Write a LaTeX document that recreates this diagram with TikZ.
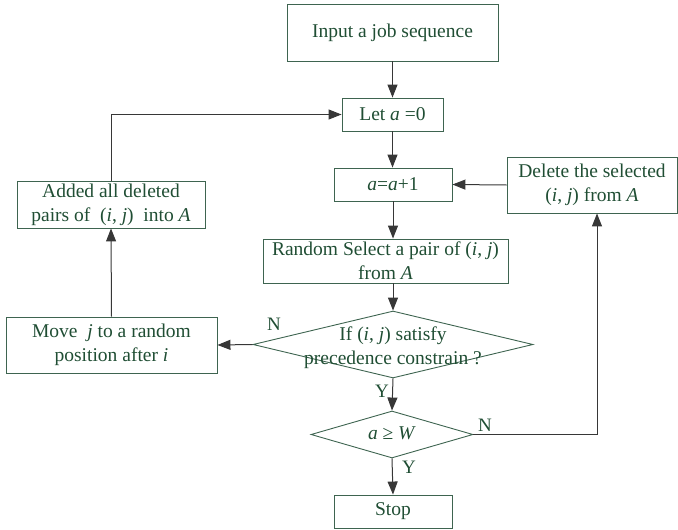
\documentclass[tikz,border=0pt]{standalone}
\usepackage{fontspec}
\setmainfont{Liberation Serif}
\usetikzlibrary{arrows.meta,shapes.geometric}
\definecolor{txtgreen}{RGB}{32,78,52}
\definecolor{boxgreen}{RGB}{62,100,80}
\definecolor{linegray}{RGB}{55,55,55}
\tikzset{
  box/.style={draw=boxgreen, line width=0.9pt, text=txtgreen, align=center, inner sep=0pt,
    font=\fontsize{19.5}{24}\selectfont},
  dia/.style={draw=boxgreen, line width=0.9pt, shape=diamond, inner sep=0pt, aspect=1},
  txt/.style={text=txtgreen, align=center, inner sep=0pt, font=\fontsize{19.5}{24}\selectfont},
  conn/.style={draw=linegray, line width=1pt, -{Triangle[length=13pt,width=10pt]}},
  yn/.style={text=txtgreen, inner sep=0pt, font=\fontsize{19}{22}\selectfont}
}
\begin{document}
\begin{tikzpicture}[x=1pt,y=-1pt]
\useasboundingbox (0,0) rectangle (678,530);
\node[box, minimum width=211, minimum height=57] (inp) at (392.5,32.5) {Input a job sequence};
\node[box, minimum width=101, minimum height=33] (let) at (392.5,114.5) {Let \textit{a} =0};
\node[box, minimum width=118, minimum height=33] (inc) at (393,184.5) {\textit{a}=\textit{a}+1};
\node[box, minimum width=170, minimum height=56] (del) at (592,185) {Delete the selected\\(\textit{i}, \textit{j}) from \textit{A}};
\node[box, minimum width=245, minimum height=44] (rnd) at (385.5,261) {Random Select a pair of (\textit{i}, \textit{j})\\from \textit{A}};
\node[dia, minimum width=280, minimum height=67] (d1) at (393,344.5) {};
\node[txt] (d1t) at (393,348) {If (\textit{i}, \textit{j}) satisfy\\precedence constrain ?};
\node[dia, minimum width=162, minimum height=47] (d2) at (392,434.5) {};
\node[txt] (d2t) at (392,433) {\textit{a} ≥ \textit{W}};
\node[box, minimum width=118, minimum height=33] (stop) at (393,511.5) {Stop};
\node[box, minimum width=188, minimum height=47] (add) at (111,204.5) {Added all deleted\\pairs of~ (\textit{i}, \textit{j})~ into \textit{A}};
\node[box, minimum width=211, minimum height=56] (mov) at (111.5,345) {Move~ \textit{j} to a random\\position after \textit{i}};
\coordinate (rc) at (597,434.5);

\draw[conn] (inp.south) -- (inp.south |- let.north);
\draw[conn] (let.south) -- (let.south |- inc.north);
\draw[conn] (inc.south) -- (inc.south |- rnd.north);
\draw[conn] (rnd.south -| d1.north) -- (d1.north);
\draw[conn] (d1.south) -- (d2.north);
\draw[conn] (d2.south) -- (stop.north);
\draw[conn] (d1.west) -- (mov.east);
\draw[conn] (mov.north) -- (add.south);
\draw[conn] (add.north) |- (let.west);
\draw[conn] (d2.east) -- (rc) -- (rc |- del.south);
\draw[conn] (del.west) -- (inc.east);

\node[yn] (n1) at (274,324) {N};
\node[yn] (y1) at (382,391) {Y};
\node[yn] (n2) at (485,425) {N};
\node[yn] (y2) at (409,467) {Y};
\end{tikzpicture}
\end{document}
